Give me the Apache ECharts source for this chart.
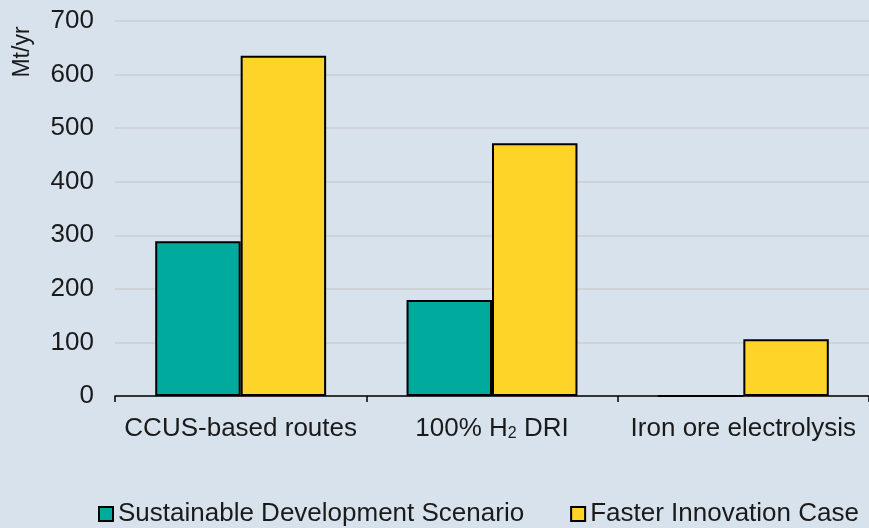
<!DOCTYPE html>
<html>
<head>
<meta charset="utf-8">
<script src="https://cdn.jsdelivr.net/npm/echarts@6/dist/echarts.min.js"></script>
<style>
  html, body { margin: 0; padding: 0; background: #d7e2ec; }
  #chart { width: 869px; height: 528px; }
</style>
</head>
<body>
<div id="chart"></div>
<script>
  // categories and series
  var categories = ['CCUS-based routes', '100% H2 DRI', 'Iron ore electrolysis'];
  var sdsValues = [289, 179, 0];
  var ficValues = [635, 472, 106];
  var yTicks = [0, 100, 200, 300, 400, 500, 600, 700];

  var chart = echarts.init(document.getElementById('chart'));
  var font = 'Liberation Sans, Arial, sans-serif';

  chart.setOption({
    backgroundColor: '#d7e2ec',
    animation: false,
    textStyle: { fontFamily: font },
    grid: { left: 115, right: 0, top: 21, bottom: 132, outerBoundsMode: 'none', containLabel: false },
    graphic: [{
      type: 'text',
      x: 23,
      y: 52,
      rotation: Math.PI / 2,
      style: {
        text: 'Mt/yr',
        fontSize: 23,
        fontFamily: font,
        fill: '#1a1a1a',
        textAlign: 'center',
        textVerticalAlign: 'middle'
      }
    }],
    legend: {
      top: 496,
      left: 93,
      itemWidth: 14,
      itemHeight: 14,
      itemGap: 46,
      icon: 'rect',
      textStyle: { fontSize: 26, color: '#1a1a1a', fontFamily: font },
      data: ['Sustainable Development Scenario', 'Faster Innovation Case']
    },
    xAxis: {
      type: 'category',
      data: categories,
      axisLine: { lineStyle: { color: '#000', width: 1.5 } },
      axisTick: { show: true, length: 6, lineStyle: { color: '#000', width: 1.5 } },
      axisLabel: {
        interval: 0,
        hideOverlap: false,
        fontSize: 26, color: '#1a1a1a', margin: 20,
        formatter: function (v) {
          if (v === '100% H2 DRI') return '{a|100% H}{s|2}{a| DRI}';
          return '{a|' + v + '}';
        },
        rich: {
          a: { fontSize: 26, color: '#1a1a1a', fontFamily: font },
          s: { fontSize: 16, color: '#1a1a1a', fontFamily: font, padding: [10, 0, 0, 0] }
        }
      }
    },
    yAxis: {
      type: 'value',
      min: yTicks[0],
      max: yTicks[yTicks.length - 1],
      interval: 100,
      axisLine: { show: false },
      axisTick: { show: false },
      axisLabel: { fontSize: 26, color: '#1a1a1a', margin: 21 },
      splitLine: { lineStyle: { color: '#cfd3d7', width: 2 } }
    },
    series: [
      {
        name: 'Sustainable Development Scenario',
        type: 'bar',
        data: sdsValues,
        barGap: '0%',
        barCategoryGap: '32%',
        itemStyle: { color: '#00ab9e', borderColor: '#000', borderWidth: 2 }
      },
      {
        name: 'Faster Innovation Case',
        type: 'bar',
        data: ficValues,
        itemStyle: { color: '#ffd428', borderColor: '#000', borderWidth: 2 }
      }
    ]
  });
</script>
</body>
</html>
